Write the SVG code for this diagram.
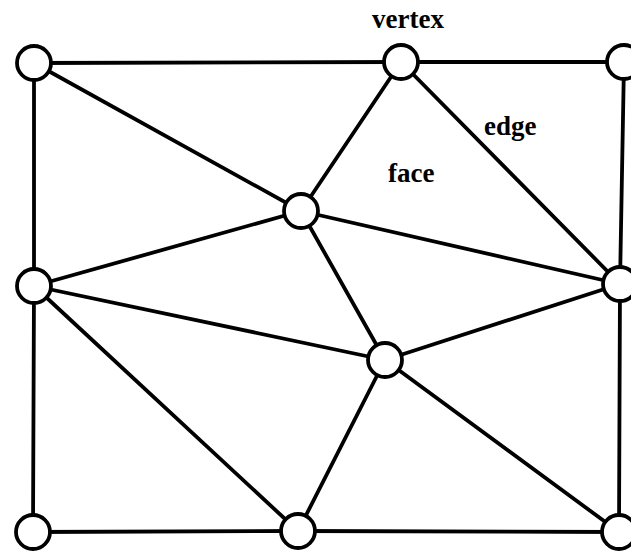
<svg xmlns="http://www.w3.org/2000/svg" width="631" height="552" viewBox="0 0 631 552">
<style>
.e{stroke:#000;stroke-width:3.8;stroke-linecap:round}
.n{fill:#fff;stroke:#000;stroke-width:3.8}
.t{font-family:"Liberation Serif","Times New Roman",serif;font-weight:bold;font-size:27px;fill:#000}
</style>
<rect width="631" height="552" fill="#fff"/>
<g id="connectors">
<line class="e" x1="34" y1="63" x2="401" y2="62"/>
<line class="e" x1="401" y1="62" x2="624" y2="62"/>
<line class="e" x1="34" y1="63" x2="34" y2="286"/>
<line class="e" x1="34" y1="286" x2="33" y2="532"/>
<line class="e" x1="33" y1="532" x2="298" y2="531"/>
<line class="e" x1="298" y1="531" x2="619" y2="532"/>
<line class="e" x1="619" y1="532" x2="620" y2="284"/>
<line class="e" x1="620" y1="284" x2="624" y2="62"/>
<line class="e" x1="34" y1="63" x2="301" y2="211"/>
<line class="e" x1="401" y1="62" x2="301" y2="211"/>
<line class="e" x1="401" y1="62" x2="620" y2="284"/>
<line class="e" x1="301" y1="211" x2="620" y2="284"/>
<line class="e" x1="301" y1="211" x2="34" y2="286"/>
<line class="e" x1="301" y1="211" x2="385" y2="360"/>
<line class="e" x1="34" y1="286" x2="385" y2="360"/>
<line class="e" x1="34" y1="286" x2="298" y2="531"/>
<line class="e" x1="385" y1="360" x2="620" y2="284"/>
<line class="e" x1="385" y1="360" x2="298" y2="531"/>
<line class="e" x1="385" y1="360" x2="619" y2="532"/>
</g>
<g id="n1"><circle class="n" cx="34" cy="63" r="17"/></g>
<g id="n2"><circle class="n" cx="401" cy="62" r="17"/></g>
<g id="n3"><circle class="n" cx="624" cy="62" r="17"/></g>
<g id="n4"><circle class="n" cx="301" cy="211" r="17"/></g>
<g id="n5"><circle class="n" cx="620" cy="284" r="17"/></g>
<g id="n6"><circle class="n" cx="34" cy="286" r="17"/></g>
<g id="n7"><circle class="n" cx="385" cy="360" r="17"/></g>
<g id="n8"><circle class="n" cx="33" cy="532" r="17"/></g>
<g id="n9"><circle class="n" cx="298" cy="531" r="17"/></g>
<g id="n10"><circle class="n" cx="619" cy="532" r="17"/></g>
<g id="labels">
<text class="t" x="372" y="28">vertex</text>
<text class="t" x="484" y="135">edge</text>
<text class="t" x="388" y="182">face</text>
</g>
</svg>
